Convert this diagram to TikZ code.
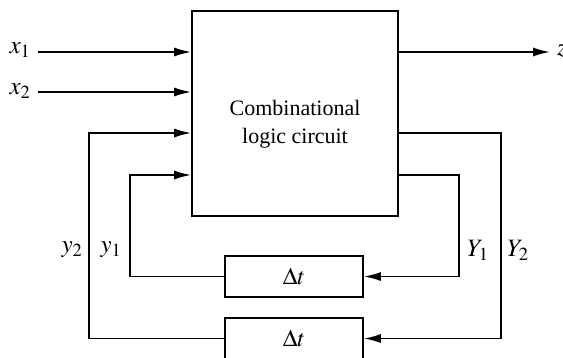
\documentclass[tikz,border=0pt]{standalone}
\usepackage{mathptmx}
\usepackage{fontspec}
\setmainfont{Liberation Serif}
\usetikzlibrary{arrows.meta,calc}
\begin{document}
\begin{tikzpicture}[x=1pt,y=-1pt,
  wire/.style={line width=1.7pt},
  arr/.style={wire,-{Latex[length=17pt,width=9pt]}},
  blk/.style={draw,line width=1.7pt,inner sep=0pt,font=\fontsize{24}{28}\selectfont,align=center},
  lbl/.style={font=\fontsize{25}{28}\selectfont,inner sep=0pt}]
\useasboundingbox (0,0) rectangle (563,357);
\clip (0,0) rectangle (563,357);
\node[blk,minimum width=206pt,minimum height=205pt] (clc) at (295,113.5) {};
\node[font=\fontsize{22}{28}\selectfont,align=center] (txt) at (295,124) {Combinational\\logic circuit};
\node[blk,minimum width=138pt,minimum height=41pt] (d1) at (294,276.5) {$\Delta t$};
\node[blk,minimum width=138pt,minimum height=41pt] (d2) at (294,338.5) {$\Delta t$};
% inputs
\node[lbl] (x1) at (20,50) {$x_1$};
\node[lbl] (x2) at (20,91) {$x_2$};
\coordinate (x1s) at (38,52);
\coordinate (x2s) at (38,92);
\draw[arr] (x1s) -- (x1s -| clc.west);
\draw[arr] (x2s) -- (x2s -| clc.west);
% output
\coordinate (zs) at (398,52);
\coordinate (ze) at (550,52);
\node[lbl,anchor=west] (z) at (557,51) {$z$};
\draw[arr] (zs) -- (ze);
% feedback 1
\coordinate (Y1a) at (398,175);
\coordinate (Y1b) at (459,175);
\draw[arr] (Y1a) -- (Y1b) |- (d1.east);
\coordinate (y1b) at (130,175);
\draw[arr] (d1.west) -| (y1b) -- (y1b -| clc.west);
% feedback 2
\coordinate (Y2a) at (398,133);
\coordinate (Y2b) at (501,133);
\draw[arr] (Y2a) -- (Y2b) |- (d2.east);
\coordinate (y2b) at (89,133);
\draw[arr] (d2.west) -| (y2b) -- (y2b -| clc.west);
% labels
\node[lbl] (ly2) at (72,250) {$y_2$};
\node[lbl] (ly1) at (111,250) {$y_1$};
\node[lbl] (lY1) at (478,250) {$Y_1$};
\node[lbl] (lY2) at (518,250) {$Y_2$};
\end{tikzpicture}
\end{document}
